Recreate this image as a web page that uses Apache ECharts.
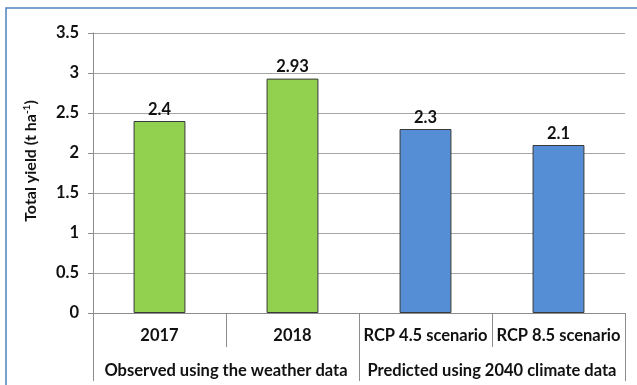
<!DOCTYPE html>
<html>
<head>
<meta charset="utf-8">
<script src="https://cdn.jsdelivr.net/npm/echarts@6/dist/echarts.min.js"></script>
<style>
html,body{margin:0;padding:0;background:#ffffff;}
#chart{width:637px;height:385px;}
</style>
</head>
<body>
<div id="chart"></div>
<script>
// Yield per scenario, observed years in green, projected scenarios in blue
const categories = ['2017', '2018', 'RCP 4.5 scenario', 'RCP 8.5 scenario'];
const groups = ['Observed using the weather data', 'Predicted using 2040 climate data'];
const yields = [2.4, 2.93, 2.3, 2.1];
const barColors = ['#92d050', '#92d050', '#558ed5', '#558ed5'];
const yTicks = [0, 0.5, 1, 1.5, 2, 2.5, 3, 3.5];

const FONT = 'Lato';
const chart = echarts.init(document.getElementById('chart'));

chart.setOption({
  backgroundColor: '#ffffff',
  animation: false,
  textStyle: { fontFamily: FONT },
  grid: { left: 93, right: 12, top: 33, bottom: 72, containLabel: false },
  graphic: [{
    type: 'rect',
    shape: { x: 6, y: 8, width: 640, height: 390 },
    style: { fill: 'none', stroke: '#4f81bd', lineWidth: 1.5 },
    silent: true
  }],
  xAxis: [{
    type: 'category',
    data: categories,
    position: 'bottom',
    axisLine: { show: true, lineStyle: { color: '#8c8c8c', width: 1 } },
    axisTick: { show: true, length: 34, alignWithLabel: false, lineStyle: { color: '#8c8c8c' } },
    axisLabel: { margin: 14, fontSize: 16.5, fontWeight: 'bold', color: '#111', fontFamily: FONT, interval: 0 }
  }, {
    type: 'category',
    data: groups,
    position: 'bottom',
    offset: 34,
    axisLine: { show: false },
    axisTick: { show: true, length: 34, alignWithLabel: false, lineStyle: { color: '#8c8c8c' } },
    axisLabel: { margin: 15, fontSize: 16.5, fontWeight: 'bold', color: '#111', fontFamily: FONT, interval: 0 }
  }],
  yAxis: {
    type: 'value',
    min: yTicks[0],
    max: yTicks[yTicks.length - 1],
    interval: 0.5,
    name: '{t|Total yield (t ha}{s|-1}{t|)}',
    nameLocation: 'middle',
    nameGap: 53,
    nameTextStyle: {
      fontWeight: 'bold',
      fontSize: 16,
      fontFamily: FONT,
      padding: [0, 0, 0, 24],
      rich: {
        t: { fontSize: 16, fontWeight: 'bold', color: '#111', fontFamily: FONT },
        s: { fontSize: 10, fontWeight: 'bold', color: '#111', fontFamily: FONT, verticalAlign: 'top', padding: [0, 0, 8, 0] }
      }
    },
    axisLine: { show: true, lineStyle: { color: '#8c8c8c' } },
    axisTick: { show: true, length: 5, lineStyle: { color: '#8c8c8c' } },
    axisLabel: { margin: 14, fontSize: 16.5, fontWeight: 'bold', color: '#111', fontFamily: FONT },
    splitLine: { show: true, lineStyle: { color: '#a6a6a6', width: 1 } }
  },
  series: [{
    type: 'bar',
    xAxisIndex: 0,
    barWidth: '39%',
    data: yields.map((v, i) => ({
      value: v,
      itemStyle: { color: barColors[i], borderColor: '#3a3a3a', borderWidth: 1 }
    })),
    label: {
      show: true,
      position: 'top',
      distance: 3,
      fontSize: 16.5,
      fontWeight: 'bold',
      color: '#111',
      fontFamily: FONT
    }
  }]
});
</script>
</body>
</html>
